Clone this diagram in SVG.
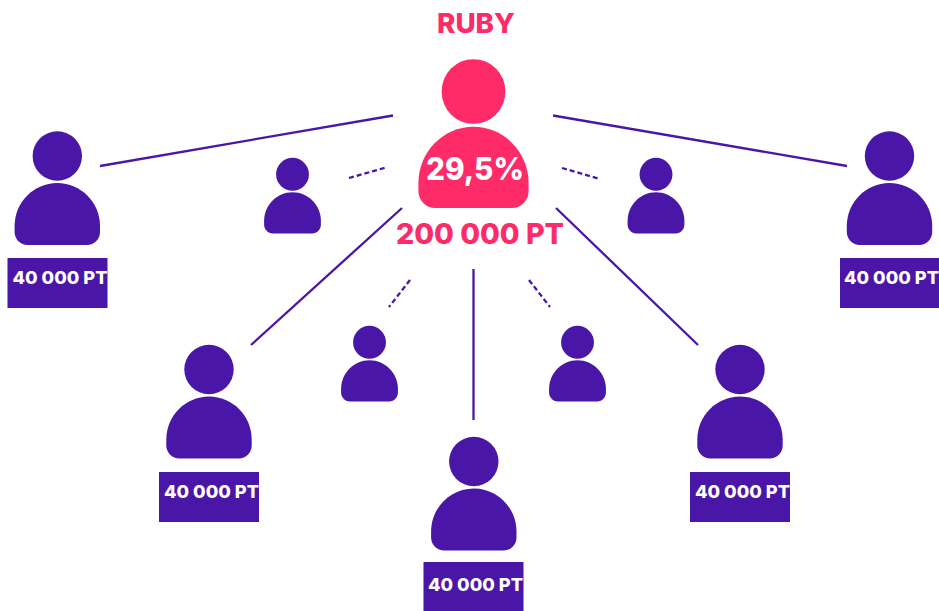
<svg xmlns="http://www.w3.org/2000/svg" width="939" height="611" viewBox="0 0 939 611">
<style>
.l{fill:none;stroke:#4a16a8;stroke-width:2.300;stroke-linecap:butt}
.d{fill:none;stroke:#4a16a8;stroke-width:2.300;stroke-dasharray:5 3}
.box{fill:#4a16a8}
.p{fill:#4a16a8}
.r{fill:#ff2a68}
text{font-family:"Inter","Liberation Sans",sans-serif;font-weight:800}
.pt{fill:#fff;font-size:18px}
.rt{fill:#ff2a68;text-anchor:middle}
</style>
<defs>
<symbol id="person" overflow="visible">
<circle cx="0" cy="0" r="24.7"/>
<path d="M-42.7 70C-42.7 46.400-23.600 27 0 27S42.700 46.400 42.700 70V76C42.700 83.200 36.900 89 29.700 89H-29.700C-36.900 89-42.700 83.200-42.700 76Z"/>
</symbol>
</defs>
<rect width="939" height="611" fill="#fff"/>
<g id="connectors">
<path class="l" d="M100 166L393 115.500"/>
<path class="l" d="M553 115.500L847 166"/>
<path class="l" d="M402 208L251 345"/>
<path class="l" d="M556 208L698 345"/>
<path class="l" d="M473.500 269V420"/>
<path class="d" d="M349 178L386 167.500"/>
<path class="d" d="M562 168L600 179"/>
<path class="d" d="M410 280L389 307"/>
<path class="d" d="M529 280L550 307"/>
</g>
<g id="ruby" class="r">
<text class="rt" x="476" y="33" font-size="27.500" textLength="78" lengthAdjust="spacingAndGlyphs">RUBY</text>
<use href="#person" transform="translate(473.500 91.500) scale(1.29 1.31)"/>
<text x="475" y="180" font-size="31" fill="#fff" text-anchor="middle" textLength="98" lengthAdjust="spacingAndGlyphs">29,5%</text>
<text class="rt" x="480" y="244" font-size="28" textLength="168" lengthAdjust="spacingAndGlyphs">200 000 PT</text>
</g>
<g id="member-left" class="p"><use href="#person" transform="translate(57.300 156)"/><rect class="box" x="7.500" y="258" width="100" height="50"/><text class="pt" x="12.500" y="284" textLength="95" lengthAdjust="spacingAndGlyphs">40 000 PT</text></g>
<g id="member-right" class="p"><use href="#person" transform="translate(889.500 156)"/><rect class="box" x="840" y="258" width="99" height="50"/><text class="pt" x="844" y="284" textLength="95" lengthAdjust="spacingAndGlyphs">40 000 PT</text></g>
<g id="member-lower-left" class="p"><use href="#person" transform="translate(209 369.500)"/><rect class="box" x="159" y="472" width="100" height="50"/><text class="pt" x="164" y="498" textLength="95" lengthAdjust="spacingAndGlyphs">40 000 PT</text></g>
<g id="member-lower-right" class="p"><use href="#person" transform="translate(740 369.500)"/><rect class="box" x="690" y="472" width="100" height="50"/><text class="pt" x="695" y="498" textLength="95" lengthAdjust="spacingAndGlyphs">40 000 PT</text></g>
<g id="member-bottom" class="p"><use href="#person" transform="translate(473.800 461.500)"/><rect class="box" x="423.500" y="562" width="100" height="49"/><text class="pt" x="428" y="591" textLength="95" lengthAdjust="spacingAndGlyphs">40 000 PT</text></g>
<g id="small-1" class="p"><use href="#person" transform="translate(292.500 174.300) scale(.665)"/></g>
<g id="small-2" class="p"><use href="#person" transform="translate(656 174.300) scale(.665)"/></g>
<g id="small-3" class="p"><use href="#person" transform="translate(369.500 342.300) scale(.665)"/></g>
<g id="small-4" class="p"><use href="#person" transform="translate(577.500 342.300) scale(.665)"/></g>
</svg>
